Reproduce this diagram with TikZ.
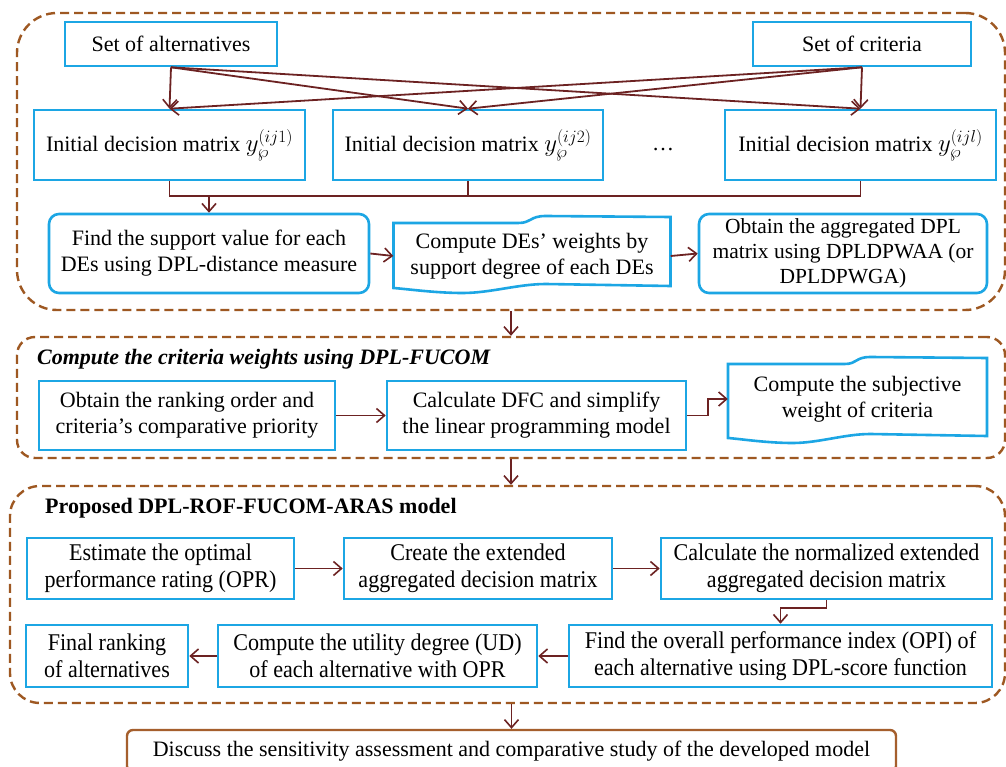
\documentclass[tikz,border=0pt]{standalone}
\usepackage{fontspec}
\setmainfont{Liberation Serif}
\newfontfamily\tallfont[FakeStretch=0.92]{Liberation Serif}
\usetikzlibrary{arrows.meta}
\definecolor{boxblue}{RGB}{28,166,228}
\definecolor{secbrown}{RGB}{158,88,34}
\definecolor{arrred}{RGB}{108,34,34}
\definecolor{discbrown}{RGB}{165,95,45}
\newcommand\tapeshape[4]{%
 \draw[tapeline] ({#1},{#3+7}) -- ({#1+0.45*(#2-#1)},{#3+7})
   .. controls ({#1+0.5*(#2-#1)},{#3+7}) and ({#1+0.49*(#2-#1)},{#3}) .. ({#1+0.55*(#2-#1)},{#3})
   -- ({#2},{#3+1}) -- ({#2},{#4-6}) -- ({#1+0.55*(#2-#1)},{#4-8})
   .. controls ({#1+0.45*(#2-#1)},{#4-8}) and ({#1+0.35*(#2-#1)},{#4+1}) .. ({#1+0.25*(#2-#1)},{#4+1})
   .. controls ({#1+0.15*(#2-#1)},{#4+1}) and ({#1+0.05*(#2-#1)},{#4-3}) .. ({#1},{#4-4}) -- cycle;}
\newcommand\ymat[1]{\mbox{\fontsize{27}{27}\selectfont$y^{(#1)}_{\wp}$}}
\begin{document}
\begin{tikzpicture}[x=1pt,y=-1pt,
 txt/.style={inner sep=0pt, align=center, font=\fontsize{22}{26}\selectfont},
 blk/.style={txt, draw=boxblue, line width=2.6pt},
 blkt/.style={blk, font=\tallfont\fontsize{24}{27.5}\selectfont},
 rblk/.style={blk, rounded corners=10pt},
 sec/.style={draw=secbrown, line width=2.4pt, dash pattern=on 9pt off 5pt, inner sep=0pt},
 arr/.style={draw=arrred, line width=1.8pt, -{Straight Barb[length=8pt,width=14pt,line width=1.6pt]}},
 con/.style={draw=arrred, line width=1.8pt},
 tapeline/.style={draw=boxblue, line width=2.6pt}]
\clip (0,0) rectangle (1006,767);
\fill[white] (0,0) rectangle (1006,767);

% sections
\node[sec, rounded corners=40pt, minimum width=988pt, minimum height=297pt] (sec1) at (511,161.5) {};
\node[sec, rounded corners=18pt, minimum width=988pt, minimum height=121pt] (sec2) at (511,397.5) {};
\node[sec, rounded corners=30pt, minimum width=995pt, minimum height=217pt] (sec3) at (507.5,594.5) {};

% section 1
\node[blk, minimum width=212pt, minimum height=44pt] (alt) at (171,44) {Set of alternatives};
\node[blk, minimum width=218pt, minimum height=44pt] (crit) at (862,44) {Set of criteria};
\node[blk, minimum width=271pt, minimum height=70pt] (m1) at (169.5,145) {Initial decision matrix~\ymat{ij1}};
\node[blk, minimum width=270pt, minimum height=70pt] (m2) at (468,145) {Initial decision matrix~\ymat{ij2}};
\node[blk, minimum width=271pt, minimum height=70pt] (m3) at (860.5,145) {Initial decision matrix~\ymat{ijl}};
\node[txt] (dots) at (663,150) {\dots};
\node[rblk, minimum width=320pt, minimum height=79pt] (find) at (209,253.5) {Find the support value for each\\DEs using DPL-distance measure};
\node[txt, minimum width=277pt, minimum height=62pt] (tape1) at (532,256) {Compute DEs’ weights by\\support degree of each DEs};
\tapeshape{393.5}{670.5}{216}{292}
\node[rblk, minimum width=288pt, minimum height=79pt, font=\fontsize{21.5}{25}\selectfont] (agg) at (843,253.5) {Obtain the aggregated DPL\\matrix using DPLDPWAA (or\\DPLDPWGA)};

\foreach \m in {m1,m2,m3} {
  \draw[arr] (alt.south) -- (\m.north);
  \draw[arr] (crit.south) -- (\m.north);
}
\coordinate (bus) at (169.5,196);
\draw[con] (m1.south) -- (bus) -| (m3.south);
\draw[con] (m2.south) -- (m2.south |- bus);
\draw[arr] (bus -| find.north) -- (find.north);
\draw[arr] (find.east) -- (tape1.west);
\draw[arr] (tape1.east) -- (agg.west);

% section 2
\node[anchor=base west, inner sep=0pt, font=\fontsize{22}{26}\selectfont\bfseries\itshape] (t2) at (37,364) {Compute the criteria weights using DPL-FUCOM};
\node[blk, minimum width=296pt, minimum height=69pt] (rank) at (187,415.5) {Obtain the ranking order and\\criteria’s comparative priority};
\node[blk, minimum width=299pt, minimum height=69pt] (dfc) at (536.5,415.5) {Calculate DFC and simplify\\the linear programming model};
\node[txt, minimum width=259pt, minimum height=70pt] (tape2) at (857.5,399) {Compute the subjective\\weight of criteria};
\tapeshape{728}{987}{357}{442}
\draw[arr] (rank.east) -- (dfc.west);
\draw[arr] (dfc.east) -- ++(21,0) |- (tape2.west);

% section 3
\node[anchor=base west, inner sep=0pt, font=\fontsize{22}{26}\selectfont\bfseries] (t3) at (45,513) {Proposed DPL-ROF-FUCOM-ARAS model};
\node[blkt, minimum width=267pt, minimum height=61pt] (opr) at (160.5,568.5) {Estimate the optimal\\performance rating (OPR)};
\node[blkt, minimum width=268pt, minimum height=61pt] (ext) at (478,568.5) {Create the extended\\aggregated decision matrix};
\node[blkt, minimum width=331pt, minimum height=61pt] (norm) at (826.5,568.5) {Calculate the normalized extended\\aggregated decision matrix};
\node[blkt, minimum width=162pt, minimum height=62pt] (final) at (107,656) {Final ranking\\of alternatives};
\node[blkt, minimum width=319pt, minimum height=62pt] (util) at (377.5,656) {Compute the utility degree (UD)\\of each alternative with OPR};
\node[blkt, minimum width=423pt, minimum height=62pt] (opi) at (780.5,656) {Find the overall performance index (OPI) of\\each alternative using DPL-score function};
\draw[arr] (opr.east) -- (ext.west);
\draw[arr] (ext.east) -- (norm.west);
\draw[arr] (norm.south) -- ++(0,8) -| (opi.north);
\draw[arr] (opi.west) -- (util.east);
\draw[arr] (util.west) -- (final.east);

% final
\node[txt, draw=discbrown, line width=2.4pt, rounded corners=6pt, minimum width=769pt, minimum height=42pt] (disc) at (511.5,751) {Discuss the sensitivity assessment and comparative study of the developed model};

\draw[arr] (sec1.south) -- (sec2.north);
\draw[arr] (sec2.south) -- (sec2.south |- sec3.north);
\draw[arr] (sec3.south -| disc.north) -- (disc.north);
\end{tikzpicture}
\end{document}
